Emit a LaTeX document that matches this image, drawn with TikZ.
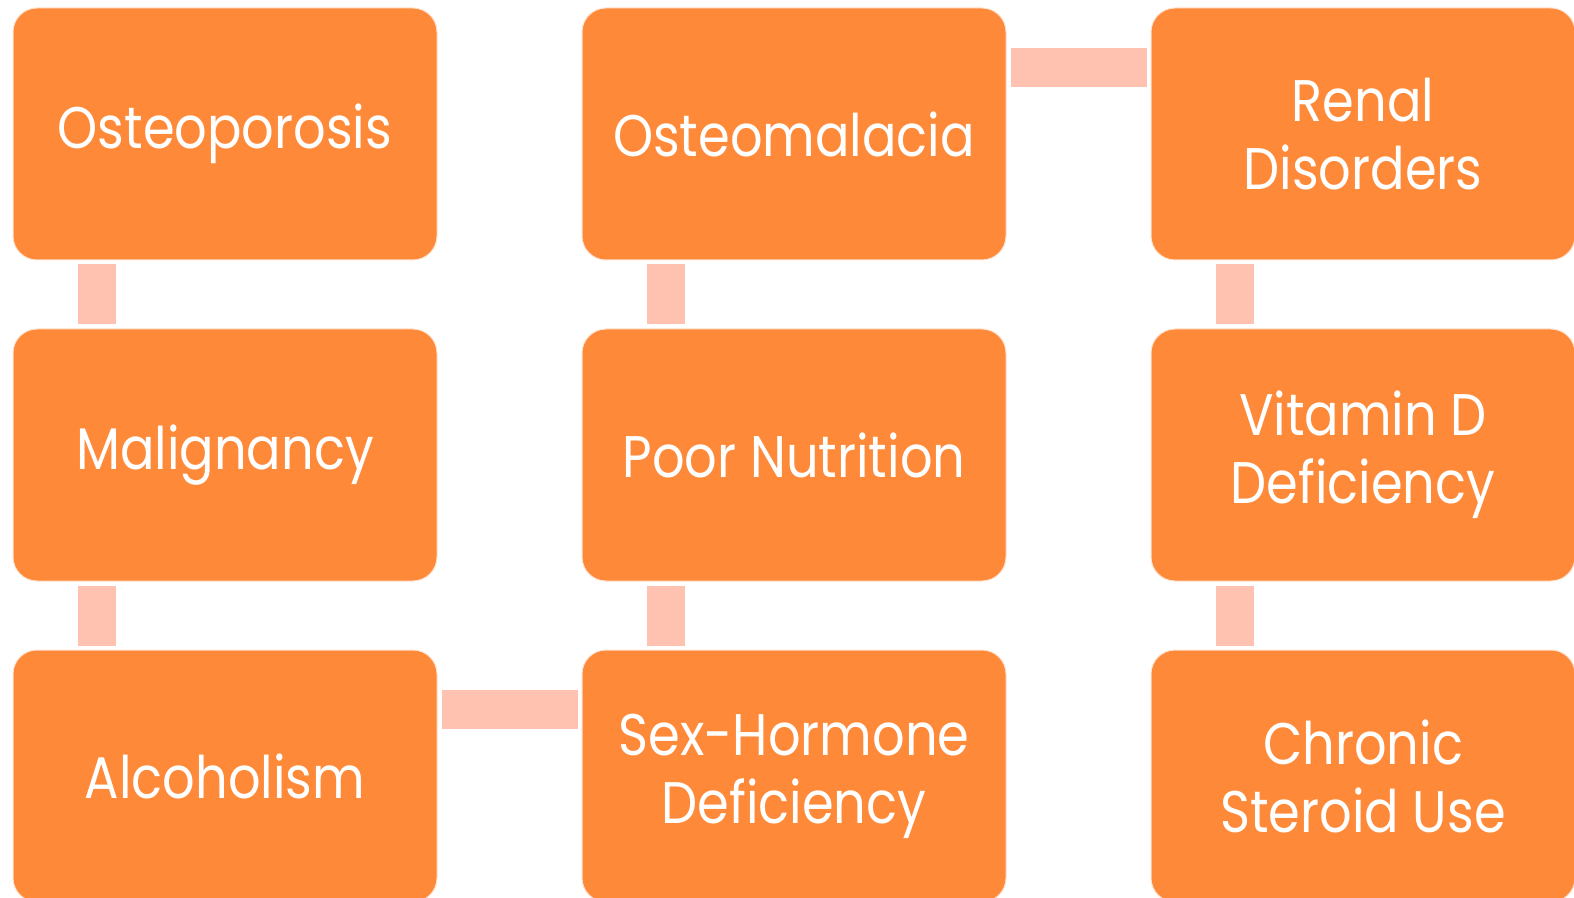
\documentclass[tikz,border=0pt]{standalone}
\usepackage{fontspec}
\setmainfont{Poppins}[FakeStretch=0.87]

\tikzset{every picture/.style={line width=0.75pt}}
\tikzset{
  stepbox/.style={draw={rgb, 255:red, 255; green, 226; blue, 208 }, fill={rgb, 255:red, 254; green, 137; blue, 57 },
    rounded corners=18pt, minimum width=318pt, minimum height=189pt, inner sep=0pt,
    align=center, text=white, font=\fontsize{44}{51}\selectfont},
  linkbar/.style={draw={rgb, 255:red, 255; green, 194; blue, 176 }, line width=29pt}
}

\begin{document}
\begin{tikzpicture}[x=0.75pt,y=0.75pt,yscale=-1,xscale=1]
\useasboundingbox (0,0) rectangle (1574,898);

% Text Node
\node[stepbox] (osteopor) at (225,134) {Osteoporosis};
% Text Node
\node[stepbox] (malig) at (225,455) {Malignancy};
% Text Node
\node[stepbox] (alcohol) at (225,776) {Alcoholism};
% Text Node
\node[stepbox] (sexhorm) at (794,776) {Sex-Hormone\\Deficiency};
% Text Node
\node[stepbox] (nutrition) at (794,455) {Poor Nutrition};
% Text Node
\node[stepbox] (osteomal) at (794,134) {Osteomalacia};
% Text Node
\node[stepbox] (renal) at (1363,134) {Renal\\Disorders};
% Text Node
\node[stepbox] (vitd) at (1363,455) {Vitamin D\\Deficiency};
% Text Node
\node[stepbox] (steroid) at (1363,776) {Chronic\\Steroid Use};

% (yshift is flipped by yscale=-1: positive goes down)
%Straight Lines
\draw[linkbar] ([xshift=63.4pt,yshift=3pt]osteopor.south west) -- ([xshift=63.4pt,yshift=-3pt]malig.north west);
%Straight Lines
\draw[linkbar] ([xshift=63.4pt,yshift=3pt]malig.south west) -- ([xshift=63.4pt,yshift=-3pt]alcohol.north west);
%Straight Lines
\draw[linkbar] ([xshift=3pt,yshift=45pt]alcohol.north east) -- ([xshift=-3pt,yshift=45pt]sexhorm.north west);
%Straight Lines
\draw[linkbar] ([xshift=63.4pt,yshift=-3pt]sexhorm.north west) -- ([xshift=63.4pt,yshift=3pt]nutrition.south west);
%Straight Lines
\draw[linkbar] ([xshift=63.4pt,yshift=-3pt]nutrition.north west) -- ([xshift=63.4pt,yshift=3pt]osteomal.south west);
%Straight Lines
\draw[linkbar] ([xshift=3pt,yshift=45pt]osteomal.north east) -- ([xshift=-3pt,yshift=45pt]renal.north west);
%Straight Lines
\draw[linkbar] ([xshift=63.4pt,yshift=3pt]renal.south west) -- ([xshift=63.4pt,yshift=-3pt]vitd.north west);
%Straight Lines
\draw[linkbar] ([xshift=63.4pt,yshift=3pt]vitd.south west) -- ([xshift=63.4pt,yshift=-3pt]steroid.north west);

\end{tikzpicture}
\end{document}
